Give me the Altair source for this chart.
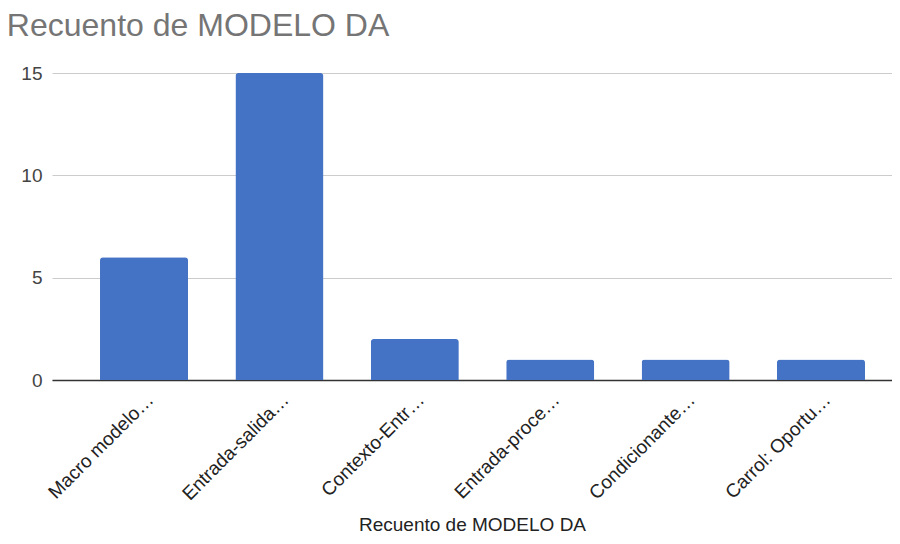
import altair as alt
import pandas as pd

categories = ["Macro modelo…", "Entrada-salida…", "Contexto-Entr…", "Entrada-proce…", "Condicionante…", "Carrol: Oportu…"]
counts = [6, 15, 2, 1, 1, 1]
y_ticks = [0, 5, 10, 15]

df = pd.DataFrame({"modelo": categories, "recuento": counts})

FONT = "Liberation Sans"

chart = alt.Chart(df).mark_bar(
    color="#4472C4",
    cornerRadiusTopLeft=3,
    cornerRadiusTopRight=3,
).encode(
    x=alt.X(
        "modelo:N",
        sort=categories,
        title="Recuento de MODELO DA",
        scale=alt.Scale(paddingInner=0.35, paddingOuter=0.277, align=0.64),
        axis=alt.Axis(
            labelAngle=-45,
            labelFontSize=19,
            labelColor="#222222",
            labelFont=FONT,
            labelPadding=10,
            labelLimit=300,
            ticks=False,
            domainColor="#333333",
            domainWidth=1.5,
            titleFont=FONT,
            titleFontSize=19,
            titleFontWeight="normal",
            titleColor="#222222",
            titlePadding=12,
        ),
    ),
    y=alt.Y(
        "recuento:Q",
        title=None,
        scale=alt.Scale(domain=[0, 15], nice=False),
        axis=alt.Axis(
            values=y_ticks,
            labelFontSize=19,
            labelColor="#444444",
            labelFont=FONT,
            labelPadding=10,
            ticks=False,
            domain=False,
            gridColor="#cccccc",
            gridWidth=1,
        ),
    ),
).properties(
    width=840,
    height=307,
    autosize=alt.AutoSizeParams(type="none"),
    padding={"left": 44, "top": 65, "right": 0, "bottom": 156},
    title=alt.TitleParams(
        "Recuento de MODELO DA",
        anchor="start",
        font=FONT,
        fontSize=32,
        fontWeight="normal",
        color="#757575",
        offset=21,
        dx=-14,
    ),
).configure_view(stroke=None)

chart.save("out.html", embed_options={"renderer": "svg", "actions": False})
